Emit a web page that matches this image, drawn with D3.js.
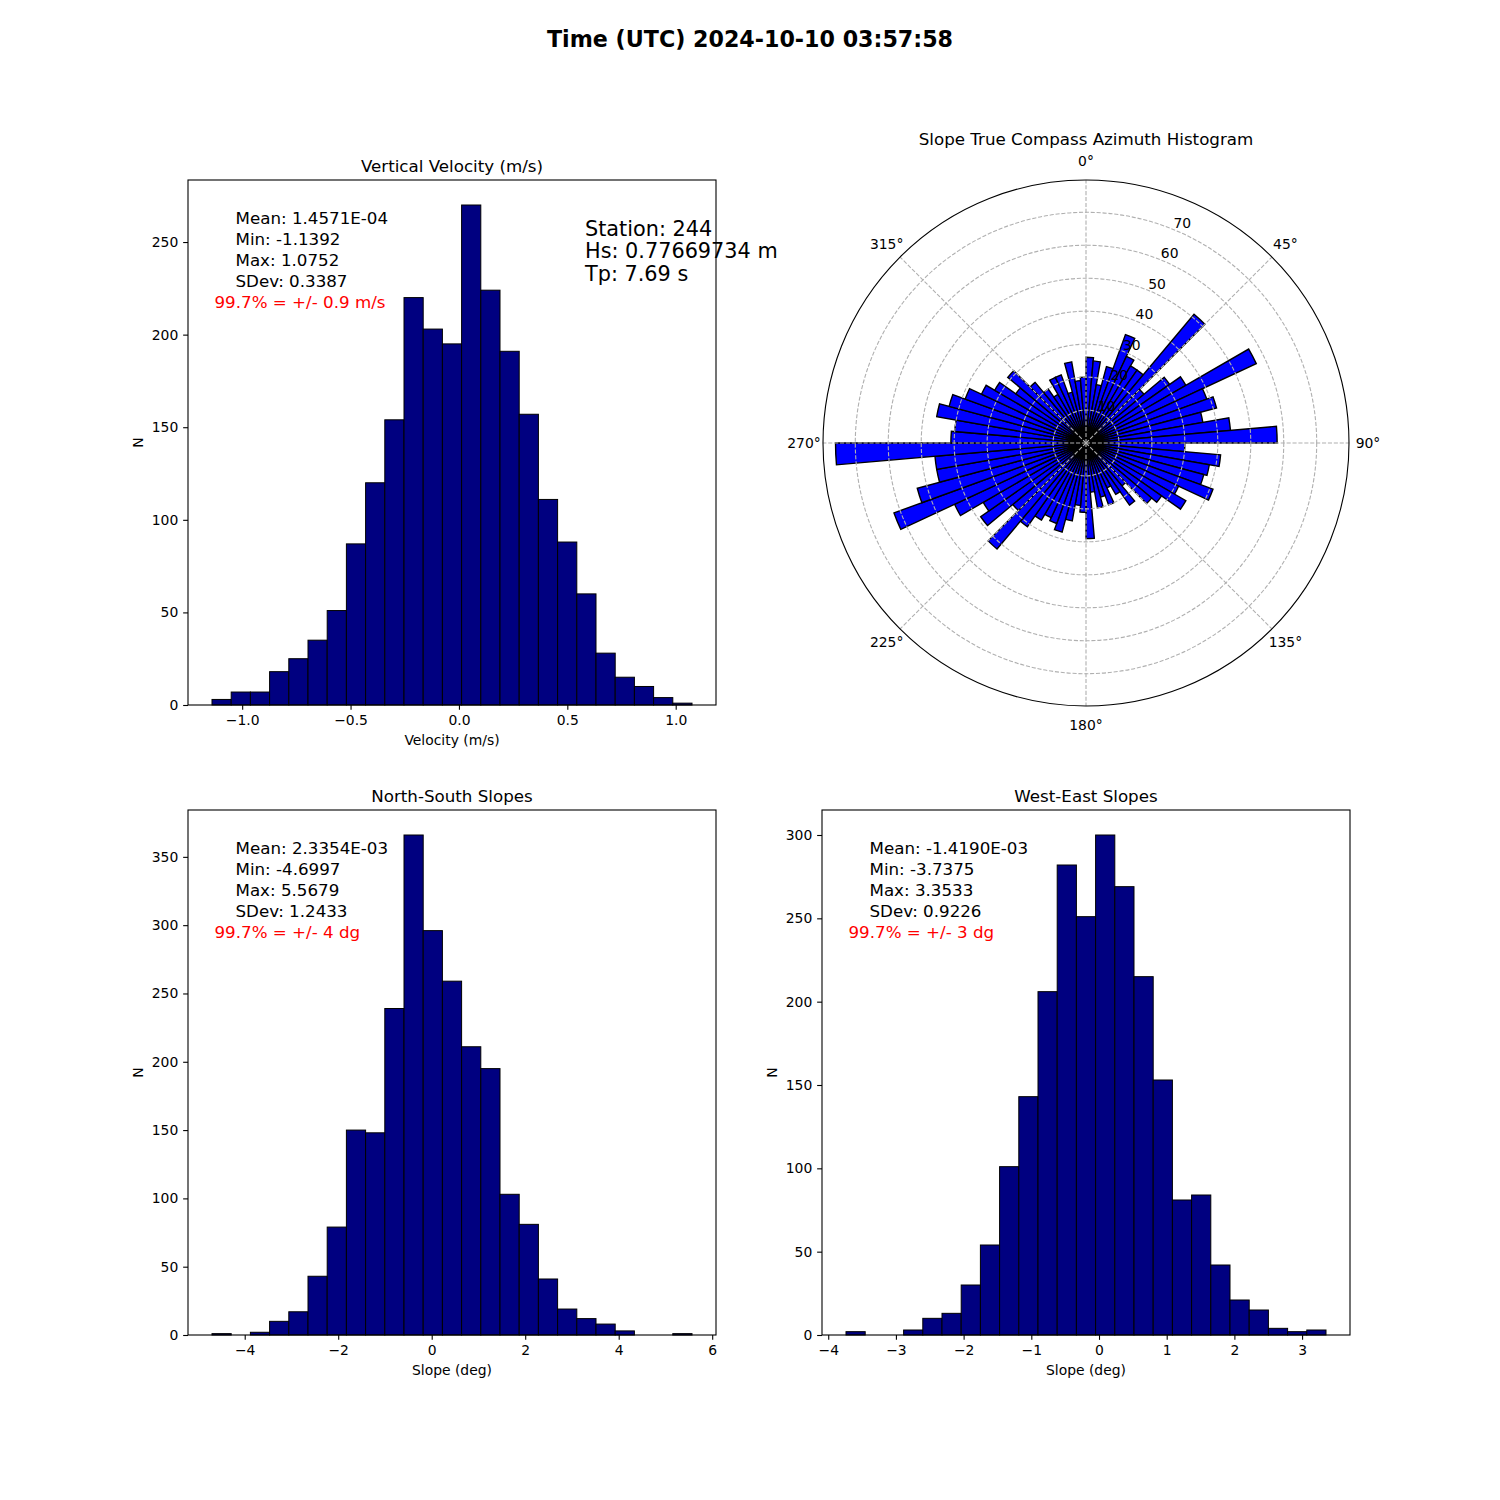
<!DOCTYPE html>
<html>
<head>
<meta charset="utf-8">
<script src="https://cdn.jsdelivr.net/npm/d3@7"></script>
<style>
  body { margin: 0; background: #fff; }
  svg { display: block; font-family: "DejaVu Sans", sans-serif; }
</style>
</head>
<body>
<svg id="chart" width="1500" height="1500"></svg>
<script>
// ---------------- DATA ----------------
const suptitle = "Time (UTC) 2024-10-10 03:57:58";

// Vertical velocity histogram (25 bins between min and max)
const velMin = -1.1392, velMax = 1.0752;
const velCounts = [3, 7, 7, 18, 25, 35, 51, 87, 120, 154, 220, 203, 195, 270, 224, 191, 157, 111, 88, 60, 28, 15, 10, 4, 1];
const velTicksX = [-1.0, -0.5, 0.0, 0.5, 1.0];
const velTicksY = [0, 50, 100, 150, 200, 250];
const velStats = ["Mean: 1.4571E-04", "Min: -1.1392", "Max: 1.0752", "SDev: 0.3387"];
const velLimit = "99.7% = +/- 0.9 m/s";

// North-South slopes
const nsMin = -4.6997, nsMax = 5.5679;
const nsCounts = [1, 0, 2, 10, 17, 43, 79, 150, 148, 239, 366, 296, 259, 211, 195, 103, 81, 41, 19, 12, 8, 3, 0, 0, 1];
const nsTicksX = [-4, -2, 0, 2, 4, 6];
const nsTicksY = [0, 50, 100, 150, 200, 250, 300, 350];
const nsStats = ["Mean: 2.3354E-03", "Min: -4.6997", "Max: 5.5679", "SDev: 1.2433"];
const nsLimit = "99.7% = +/- 4 dg";

// West-East slopes
const weMin = -3.7375, weMax = 3.3533;
const weCounts = [2, 0, 0, 3, 10, 13, 30, 54, 101, 143, 206, 282, 251, 300, 269, 215, 153, 81, 84, 42, 21, 15, 4, 2, 3];
const weTicksX = [-4, -3, -2, -1, 0, 1, 2, 3];
const weTicksY = [0, 50, 100, 150, 200, 250, 300];
const weStats = ["Mean: -1.4190E-03", "Min: -3.7375", "Max: 3.3533", "SDev: 0.9226"];
const weLimit = "99.7% = +/- 3 dg";

// Azimuth histogram: 72 bins of 5 degrees, compass (0 = North, clockwise)
const azBinWidth = 5;
const azCounts = [
  26, 25, 18, 24, 35, 29, 27, 27, 51, 23, 31, 35, 57, 39, 41, 36, 44, 58,
  30, 41, 38, 37, 41, 31, 35, 28, 26, 17, 23, 18, 15, 20, 17, 20, 15, 29,
  21, 19, 24, 28, 26, 25, 27, 31, 42, 29, 39, 36, 44, 62, 53, 46, 46, 76,
  41, 40, 46, 43, 39, 35, 32, 26, 31, 24, 20, 17, 22, 22, 16, 25, 19, 20
];
const azRTicks = [10, 20, 30, 40, 50, 60, 70];
const azThetaTicks = [0, 45, 90, 135, 180, 225, 270, 315];

const stationLines = ["Station: 244", "Hs: 0.77669734 m", "Tp: 7.69 s"];

// ---------------- DRAWING ----------------
const svg = d3.select("#chart");
svg.append("rect").attr("width", 1500).attr("height", 1500).attr("fill", "#fff");

svg.append("text")
  .attr("x", 750).attr("y", 46.5)
  .attr("text-anchor", "middle")
  .attr("font-size", "22.2px").attr("font-weight", "bold")
  .text(suptitle);

const TICK = 4.86, FS_TICK = "13.9px", FS_TITLE = "16.7px";

function drawHist(cfg) {
  const { left, top, width, height, min, max, counts, ticksX, ticksY, fmtX,
          title, xlabel, stats, limit } = cfg;
  const n = counts.length;
  const range = max - min;
  const edges = d3.range(n + 1).map(i => min + i * range / n);
  const x = d3.scaleLinear().domain([min - 0.05 * range, max + 0.05 * range]).range([left, left + width]);
  const y = d3.scaleLinear().domain([0, 1.05 * d3.max(counts)]).range([top + height, top]);
  const g = svg.append("g");

  g.selectAll("rect.bar").data(counts).join("rect")
    .attr("class", "bar")
    .attr("x", (d, i) => x(edges[i]))
    .attr("width", (d, i) => x(edges[i + 1]) - x(edges[i]))
    .attr("y", d => y(d))
    .attr("height", d => y(0) - y(d))
    .attr("fill", "#000080")
    .attr("stroke", "#000")
    .attr("stroke-width", 1);

  // frame
  g.append("rect").attr("x", left).attr("y", top).attr("width", width).attr("height", height)
    .attr("fill", "none").attr("stroke", "#000").attr("stroke-width", 1.1);

  const ax = g.append("g").attr("transform", `translate(0,${top + height})`)
    .call(d3.axisBottom(x).tickValues(ticksX).tickFormat(d3.format(fmtX))
      .tickSize(TICK).tickSizeOuter(0).tickPadding(4.86));
  ax.select(".domain").remove();
  ax.selectAll("line").attr("stroke", "#000").attr("stroke-width", 1.1);
  ax.selectAll("text").attr("font-size", FS_TICK).attr("font-family", "DejaVu Sans").attr("fill", "#000");

  const ay = g.append("g").attr("transform", `translate(${left},0)`)
    .call(d3.axisLeft(y).tickValues(ticksY).tickFormat(d3.format("d"))
      .tickSize(TICK).tickSizeOuter(0).tickPadding(4.86));
  ay.select(".domain").remove();
  ay.selectAll("line").attr("stroke", "#000").attr("stroke-width", 1.1);
  ay.selectAll("text").attr("font-size", FS_TICK).attr("font-family", "DejaVu Sans").attr("fill", "#000");

  g.append("text").attr("x", left + width / 2).attr("y", top - 8.5)
    .attr("text-anchor", "middle").attr("font-size", FS_TITLE).text(title);
  g.append("text").attr("x", left + width / 2).attr("y", top + height + 40)
    .attr("text-anchor", "middle").attr("font-size", FS_TICK).text(xlabel);
  g.append("text").attr("transform", `translate(${left - 45},${top + height / 2}) rotate(-90)`)
    .attr("text-anchor", "middle").attr("font-size", FS_TICK).text("N");

  stats.forEach((s, i) => {
    g.append("text").attr("x", left + 47.5).attr("y", top + 44 + i * 21.1)
      .attr("font-size", FS_TITLE).attr("fill", "#000").text(s);
  });
  g.append("text").attr("x", left + 26.5).attr("y", top + 44 + 4 * 21.1)
    .attr("font-size", FS_TITLE).attr("fill", "#ff0000").text(limit);
}

drawHist({ left: 188, top: 180, width: 528, height: 525, min: velMin, max: velMax,
  counts: velCounts, ticksX: velTicksX, ticksY: velTicksY, fmtX: ".1f",
  title: "Vertical Velocity (m/s)", xlabel: "Velocity (m/s)", stats: velStats, limit: velLimit });
drawHist({ left: 188, top: 810, width: 528, height: 525, min: nsMin, max: nsMax,
  counts: nsCounts, ticksX: nsTicksX, ticksY: nsTicksY, fmtX: "d",
  title: "North-South Slopes", xlabel: "Slope (deg)", stats: nsStats, limit: nsLimit });
drawHist({ left: 822, top: 810, width: 528, height: 525, min: weMin, max: weMax,
  counts: weCounts, ticksX: weTicksX, ticksY: weTicksY, fmtX: "d",
  title: "West-East Slopes", xlabel: "Slope (deg)", stats: weStats, limit: weLimit });

// ---------------- POLAR ----------------
const cx = 1086, cy = 443, R = 263;
const rScale = d3.scaleLinear().domain([0, 1.05 * d3.max(azCounts)]).range([0, R]);
const pg = svg.append("g").attr("transform", `translate(${cx},${cy})`);
const toRad = d => d * Math.PI / 180;
const arc = d3.arc().innerRadius(0);

pg.selectAll("path.wedge").data(azCounts).join("path")
  .attr("class", "wedge")
  .attr("d", (d, i) => arc({ outerRadius: rScale(d), startAngle: toRad(i * azBinWidth), endAngle: toRad((i + 1) * azBinWidth) }))
  .attr("fill", "#0000ff")
  .attr("stroke", "#000")
  .attr("stroke-width", 1.4)
  .attr("stroke-linejoin", "miter");

// grid
pg.selectAll("circle.rgrid").data(azRTicks).join("circle")
  .attr("class", "rgrid").attr("r", d => rScale(d))
  .attr("fill", "none").attr("stroke", "#b0b0b0").attr("stroke-width", 1.1)
  .attr("stroke-dasharray", "4.1,1.8");
pg.selectAll("line.tgrid").data(azThetaTicks).join("line")
  .attr("class", "tgrid")
  .attr("x1", 0).attr("y1", 0)
  .attr("x2", d => R * Math.sin(toRad(d)))
  .attr("y2", d => -R * Math.cos(toRad(d)))
  .attr("stroke", "#b0b0b0").attr("stroke-width", 1.1)
  .attr("stroke-dasharray", "4.1,1.8");

pg.append("circle").attr("r", R).attr("fill", "none").attr("stroke", "#000").attr("stroke-width", 1.1);

// radial labels at 22.5 deg
pg.selectAll("text.rlab").data(azRTicks).join("text")
  .attr("class", "rlab")
  .attr("x", d => rScale(d) * Math.sin(toRad(22.5)) + 8)
  .attr("y", d => -rScale(d) * Math.cos(toRad(22.5)) - 7)
  .attr("text-anchor", "middle").attr("dominant-baseline", "central")
  .attr("font-size", FS_TICK).text(d => d);

pg.selectAll("text.tlab").data(azThetaTicks).join("text")
  .attr("class", "tlab")
  .attr("x", d => 282 * Math.sin(toRad(d)))
  .attr("y", d => -282 * Math.cos(toRad(d)))
  .attr("text-anchor", "middle").attr("dominant-baseline", "central")
  .attr("font-size", FS_TICK).text(d => d + "°");

svg.append("text").attr("x", cx).attr("y", 145)
  .attr("text-anchor", "middle").attr("font-size", FS_TITLE)
  .text("Slope True Compass Azimuth Histogram");

// station text
stationLines.forEach((s, i) => {
  svg.append("text").attr("x", 585).attr("y", 235.7 + i * 22.7)
    .attr("font-size", "20.8px").attr("fill", "#000").text(s);
});
</script>
</body>
</html>
